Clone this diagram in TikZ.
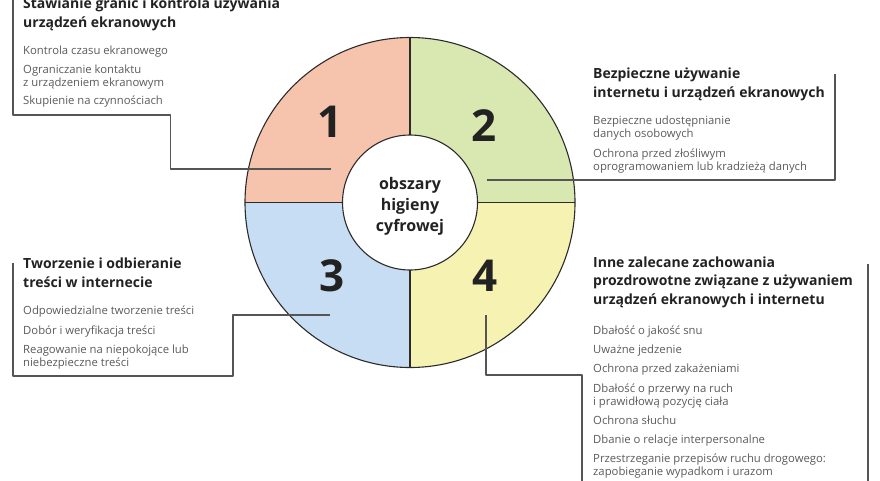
\documentclass[tikz,border=0pt]{standalone}
\usepackage{fontspec}
\setmainfont{Open Sans}
\usetikzlibrary{calc}
\definecolor{ringline}{HTML}{2B2B2B}
\definecolor{leadgray}{HTML}{555555}
\definecolor{itemgray}{HTML}{5A5A5A}
\definecolor{titleink}{HTML}{222222}
\definecolor{areaone}{HTML}{F6C4AD}
\definecolor{areatwo}{HTML}{D9E7B0}
\definecolor{areathree}{HTML}{C7DDF3}
\definecolor{areafour}{HTML}{F6F2B2}

\begin{document}
\begin{tikzpicture}[
  x=1pt,
  y=-1pt,
  line join=round,
  ring/.style={draw=ringline,line width=1.1pt},
  leader/.style={draw=leadgray,line width=1.2pt},
  digit/.style={font=\fontsize{44}{44}\selectfont\bfseries,text=titleink,inner sep=0pt},
  hub/.style={font=\fontsize{16}{21}\selectfont\bfseries,text=titleink,align=center,inner sep=0pt},
  heading/.style={font=\fontsize{14}{18.7}\selectfont\bfseries,text=titleink,align=left,anchor=base west,inner sep=0pt},
  item/.style={font=\fontsize{11.3}{13.5}\selectfont,text=itemgray,align=left,anchor=base west,inner sep=0pt}
]
  % Match the artwork frame.
  \useasboundingbox (0,0) rectangle (880,480);

  % Ring: centre, outer and inner radius.
  \coordinate (c) at (410,202.5);
  \def\outr{165}
  \def\inr{67.5}

  % Four coloured quarters (y points down, so 270 is up).
  \fill[areaone] (c) -- ++(180:\outr) arc[start angle=180,end angle=270,radius=\outr] -- cycle;
  \fill[areatwo] (c) -- ++(270:\outr) arc[start angle=270,end angle=360,radius=\outr] -- cycle;
  \fill[areafour] (c) -- ++(0:\outr) arc[start angle=0,end angle=90,radius=\outr] -- cycle;
  \fill[areathree] (c) -- ++(90:\outr) arc[start angle=90,end angle=180,radius=\outr] -- cycle;
  \foreach \a in {0,90,180,270} {
    \draw[ring] ($(c)+(\a:\inr)$) -- ($(c)+(\a:\outr)$);
  }
  \draw[ring] (c) circle[radius=\outr];
  \draw[ring,fill=white] (c) circle[radius=\inr];

  \node[hub] (hub) at (410,206) {obszary\\higieny\\cyfrowej};
  \node[digit] (n1) at (330,122) {1};
  \node[digit] (n2) at (484,126) {2};
  \node[digit] (n3) at (332,276) {3};
  \node[digit] (n4) at (485,276) {4};

  % Leader lines from each quarter to its text frame.
  \coordinate (l1a) at (330.7,169);
  \coordinate (l1b) at (170.7,169);
  \coordinate (l1c) at (170.7,115);
  \coordinate (l1d) at (13,115);
  \coordinate (l1e) at (13,-2);
  \coordinate (l2a) at (486.5,180);
  \coordinate (l2b) at (835,180);
  \coordinate (l2c) at (835,74);
  \coordinate (l3a) at (330,315);
  \coordinate (l3b) at (233,315);
  \coordinate (l3c) at (233,376);
  \coordinate (l3d) at (13,376);
  \coordinate (l3e) at (13,263);
  \coordinate (l4a) at (486,315);
  \coordinate (l4b) at (486,375);
  \coordinate (l4c) at (582,375);
  \coordinate (l4d) at (582,482);
  \coordinate (r4a) at (868,264);
  \coordinate (r4b) at (868,482);

  \draw[leader] (l1a) -- (l1b) -- (l1c) -- (l1d) -- (l1e);
  \draw[leader] (l2a) -- (l2b) -- (l2c);
  \draw[leader] (l3a) -- (l3b) -- (l3c) -- (l3d) -- (l3e);
  \draw[leader] (l4a) -- (l4b) -- (l4c) -- (l4d);
  \draw[leader] (r4a) -- (r4b);

  % Area 1 (texts sit on the baseline of their last line).
  \node[heading] (t1) at (23,27) {Stawianie granic i kontrola używania\\urządzeń ekranowych};
  \foreach \y/\txt [count=\i] in {54/Kontrola czasu ekranowego,
      86.5/{Ograniczanie kontaktu\\z urządzeniem ekranowym},
      104/Skupienie na czynnościach} {
    \node[item] (a1i\i) at (23,\y) {\txt};
  }

  % Area 2.
  \node[heading] (t2) at (593,97) {Bezpieczne używanie\\internetu i urządzeń ekranowych};
  \foreach \y/\txt [count=\i] in {137.5/{Bezpieczne udostępnianie\\danych osobowych},
      170.5/{Ochrona przed złośliwym\\oprogramowaniem lub kradzieżą danych}} {
    \node[item] (a2i\i) at (593,\y) {\txt};
  }

  % Area 3.
  \node[heading] (t3) at (23,287) {Tworzenie i odbieranie\\treści w internecie};
  \foreach \y/\txt [count=\i] in {314/Odpowiedzialne tworzenie treści,
      334/Dobór i weryfikacja treści,
      366.5/{Reagowanie na niepokojące lub\\niebezpieczne treści}} {
    \node[item] (a3i\i) at (23,\y) {\txt};
  }

  % Area 4.
  \node[heading] (t4) at (593,304.5) {Inne zalecane zachowania\\prozdrowotne związane z używaniem\\urządzeń ekranowych i internetu};
  \foreach \y/\txt [count=\i] in {334/Dbałość o jakość snu,
      353/Uważne jedzenie,
      372/Ochrona przed zakażeniami,
      405.5/{Dbałość o przerwy na ruch\\i prawidłową pozycję ciała},
      424/Ochrona słuchu,
      443/Dbanie o relacje interpersonalne,
      475.5/{Przestrzeganie przepisów ruchu drogowego:\\zapobieganie wypadkom i urazom}} {
    \node[item] (a4i\i) at (593,\y) {\txt};
  }
\end{tikzpicture}
\end{document}
